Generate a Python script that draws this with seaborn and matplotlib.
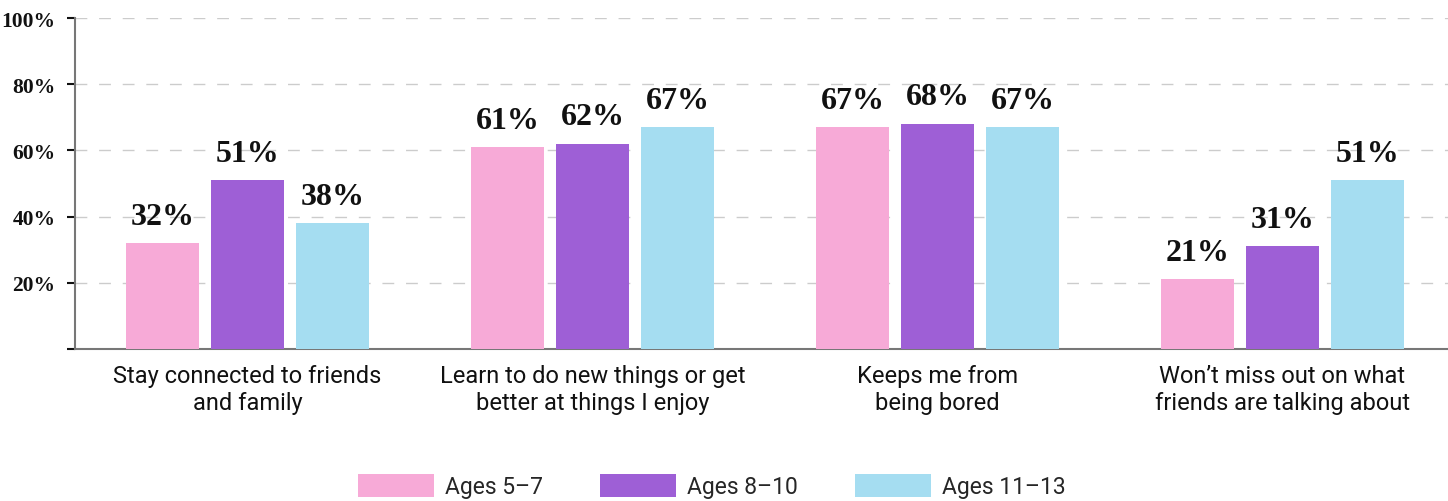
import pandas as pd
import matplotlib.pyplot as plt
import seaborn as sns
from matplotlib.patches import Patch

categories = [
    "Stay connected to friends\nand family",
    "Learn to do new things or get\nbetter at things I enjoy",
    "Keeps me from\nbeing bored",
    "Won\u2019t miss out on what\nfriends are talking about",
]
groups = ["Ages 5\u20137", "Ages 8\u201310", "Ages 11\u201313"]
ages_5_7 = [32, 61, 67, 21]
ages_8_10 = [51, 62, 68, 31]
ages_11_13 = [38, 67, 67, 51]
colors = ["#F7AAD7", "#9E5FD6", "#A5DDF1"]
y_ticks = [0, 20, 40, 60, 80, 100]

rows = []
for grp, vals in zip(groups, [ages_5_7, ages_8_10, ages_11_13]):
    for cat, v in zip(categories, vals):
        rows.append({"category": cat, "group": grp, "value": v})
df = pd.DataFrame(rows)

sns.set_style("white")
SERIF = ["Liberation Serif", "DejaVu Serif"]
SANS = ["Roboto", "DejaVu Sans"]

fig = plt.figure(figsize=(14.48, 5.02), dpi=100)
# axes run a little past the right edge, like the original
ax = fig.add_axes([75 / 1448, 1 - 350 / 502, 1380 / 1448, 331 / 502])

sns.barplot(
    data=df, x="category", y="value", hue="group",
    hue_order=groups, palette=colors, width=0.74, gap=0.14,
    saturation=1, linewidth=0, ax=ax, legend=False, zorder=3,
)

# value labels on top of bars
for cont in ax.containers:
    ax.bar_label(cont, labels=[f"{v:.0f}%" for v in cont.datavalues],
                 padding=9, fontsize=23, fontweight="bold",
                 family=SERIF, color="#111111")

ax.set_xlim(-0.5, 3.5)
ax.set_ylim(0, 100)
ax.set_yticks(y_ticks)
ax.set_yticklabels([""] + [f"{t}%" for t in y_ticks[1:]],
                   family=SERIF, fontweight="bold", fontsize=15.5, color="#111111")
ax.set_xticks(range(len(categories)))
ax.set_xticklabels(categories, family=SANS, fontsize=17, color="#111111",
                   linespacing=1.2)
ax.tick_params(axis="x", length=0, pad=11)
ax.tick_params(axis="y", length=6, width=1.5, color="#111111", pad=8, left=True)
ax.set_xlabel("")
ax.set_ylabel("")

ax.yaxis.grid(True, linestyle=(0, (8.5, 8.5)), color="#cccccc", linewidth=1, zorder=0)
ax.get_ygridlines()[0].set_visible(False)
for side in ["top", "right"]:
    ax.spines[side].set_visible(False)
for side in ["left", "bottom"]:
    ax.spines[side].set_color("#777777")
    ax.spines[side].set_linewidth(1.5)

handles = [Patch(facecolor=c, edgecolor="none") for c in colors]
fig.legend(handles, groups, loc="center", bbox_to_anchor=(712 / 1448, 1 - 487 / 502),
           ncol=3, frameon=False, handlelength=3.3, handleheight=1.2,
           columnspacing=2.5, handletextpad=0.5,
           prop={"family": SANS, "size": 16.5})

fig.savefig("out.png", dpi=100)
